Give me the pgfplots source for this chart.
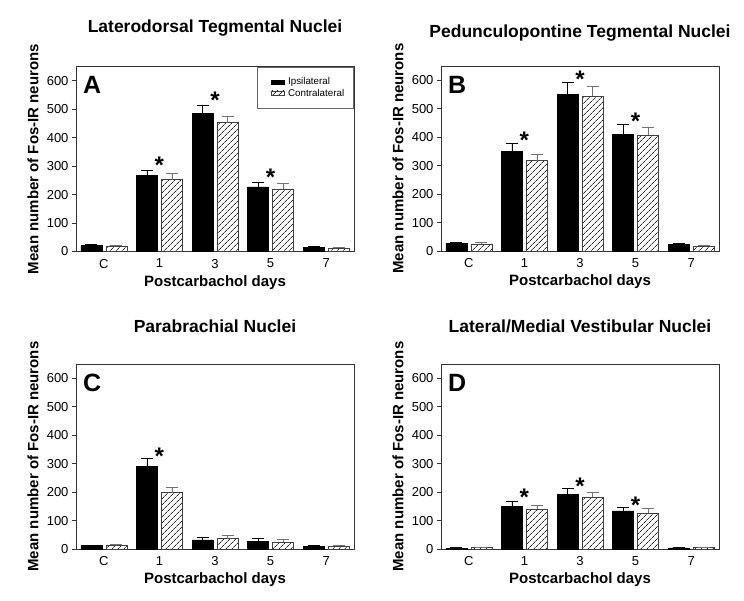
\documentclass[border=0pt]{standalone}
\usepackage{fontspec}
\setmainfont{Liberation Sans}
\usepackage{pgfplots}
\pgfplotsset{compat=1.18}
\usetikzlibrary{patterns.meta}

\tikzset{letter/.style={anchor=north west, inner sep=0pt, font=\bfseries\fontsize{25}{25}\selectfont}}

\pgfplotsset{
  panel/.style={
    scale only axis, width=278pt, height=185pt,
    xmin=-0.5, xmax=4.5, ymin=0, ymax=650,
    xtick={0,...,4}, xticklabels={C,1,3,5,7},
    ytick={0,100,...,600},
    ytick pos=left, xtick pos=bottom,
    major x tick style={draw=none},
    tick align=outside, major tick length=4pt,
    y tick style={black!80, line width=0.7pt},
    axis line style={line width=0.8pt, black!80},
    tick label style={font=\fontsize{13}{13}\selectfont},
    /pgf/number format/assume math mode=true,
    label style={font=\bfseries\fontsize{15}{15}\selectfont},
    ylabel={Mean number of Fos-IR neurons},
    xlabel={Postcarbachol days},
    ylabel style={at={(axis description cs:-0.155,0.5)}, anchor=center},
    xlabel style={at={(axis description cs:0.5,-0.167)}, anchor=center},
    title style={font=\bfseries\fontsize{17.5}{17.5}\selectfont,
      at={(axis description cs:0.5,1)}, anchor=center},
    ybar, bar width=21pt,
    legend image code/.code={\path (0pt,0pt); \draw[#1] (8pt,-2.25pt) rectangle (21pt,2.25pt);},
    clip=false,
  },
  ipsi/.style={fill=black, draw=black, line width=0.6pt, bar shift=-12.5pt,
    error bars/.cd, y dir=plus, y explicit,
    error bar style={black, line width=0.8pt},
    error mark options={black, rotate=90, mark size=6pt, line width=0.8pt}},
  contra/.style={draw=black!75, line width=0.6pt, bar shift=12.5pt,
    pattern={Lines[angle=45, distance=4pt, line width=0.7pt]}, pattern color=black!85,
    error bars/.cd, y dir=plus, y explicit,
    error bar style={black!55, line width=0.8pt},
    error mark options={black!55, rotate=90, mark size=6pt, line width=0.8pt}},
  stars/.style={draw=none, fill=none, bar shift=0pt, forget plot,
    nodes near coords={\bfseries *}, nodes near coords align=center,
    every node near coord/.append style={font=\fontsize{24}{24}\selectfont, yshift=-5pt}},
}

\begin{document}
\begin{tikzpicture}
\path (0pt,0pt) rectangle (744pt,600pt);

% A
\begin{axis}[panel, at={(76pt,348.5pt)}, anchor=south west,
  title={Laterodorsal Tegmental Nuclei}, title style={yshift=32pt},
  legend style={at={(1,1)}, anchor=north east, draw=black!60, line width=0.6pt,
    font=\fontsize{9.8}{11}\selectfont, inner xsep=6.5pt, inner ysep=10.5pt,
    nodes={inner ysep=0.5pt, inner xsep=3pt},
    row sep=1.5pt, cells={anchor=west}}]
\addplot[ipsi] table[x=x, y=y, y error=e] {
x y e
0 21 3
1 267 18
2 484 29
3 227 17
4 15 3
};
\addlegendentry{Ipsilateral}
\addplot[contra] table[x=x, y=y, y error=e] {
x y e
0 20 3
1 252 23
2 453 23
3 220 21
4 12 3
};
\addlegendentry{Contralateral}
\addplot[stars] coordinates {(1,322) (2,550) (3,277)};
\node[letter] at (rel axis cs:0.025,0.946) {A};
\end{axis}

% B
\begin{axis}[panel, at={(441pt,349pt)}, anchor=south west,
  title={Pedunculopontine Tegmental Nuclei}, title style={yshift=27pt}]
\addplot[ipsi] table[x=x, y=y, y error=e] {
x y e
0 27 4
1 350 29
2 551 42
3 411 35
4 22 4
};
\addplot[contra] table[x=x, y=y, y error=e] {
x y e
0 25 4
1 317 23
2 543 35
3 408 27
4 17 4
};
\addplot[stars] coordinates {(1,408) (2,622) (3,473)};
\node[letter] at (rel axis cs:0.025,0.946) {B};
\end{axis}

% C
\begin{axis}[panel, at={(76pt,51pt)}, anchor=south west,
  title={Parabrachial Nuclei}, title style={yshift=32pt}]
\addplot[ipsi] table[x=x, y=y, y error=e] {
x y e
0 12 2
1 291 26
2 32 10
3 28 10
4 9 2
};
\addplot[contra] table[x=x, y=y, y error=e] {
x y e
0 12 4
1 198 17
2 36 11
3 25 8
4 10 3
};
\addplot[stars] coordinates {(1,344)};
\node[letter] at (rel axis cs:0.025,0.946) {C};
\end{axis}

% D
\begin{axis}[panel, at={(441pt,51pt)}, anchor=south west,
  title={Lateral/Medial Vestibular Nuclei}, title style={yshift=32pt}]
\addplot[ipsi] table[x=x, y=y, y error=e] {
x y e
0 3 1
1 149 20
2 191 21
3 134 11
4 4 1
};
\addplot[contra] table[x=x, y=y, y error=e] {
x y e
0 5 1
1 141 13
2 183 16
3 126 16
4 5 2
};
\addplot[stars] coordinates {(1,199) (2,238) (3,170)};
\node[letter] at (rel axis cs:0.025,0.946) {D};
\end{axis}
\end{tikzpicture}
\end{document}
